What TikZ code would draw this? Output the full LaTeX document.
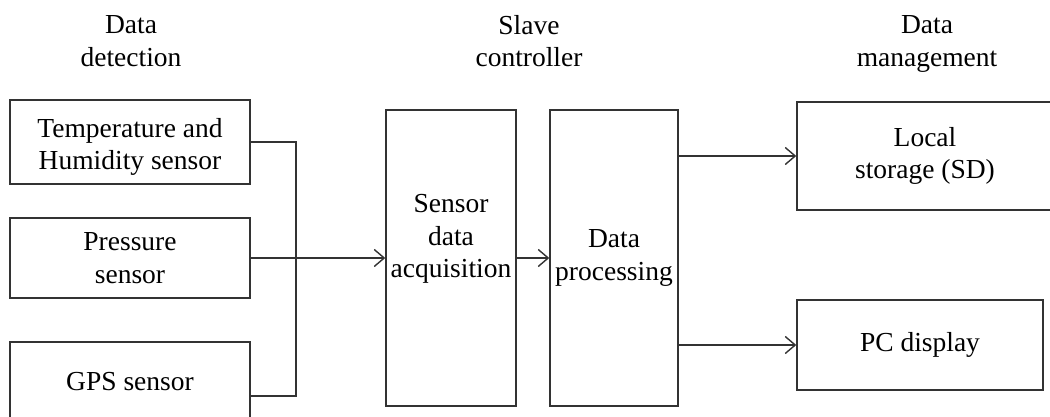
\documentclass[tikz,border=0pt]{standalone}
\usepackage{fontspec}
\setmainfont{Liberation Serif}
\usetikzlibrary{arrows.meta,positioning}

\begin{document}
\begin{tikzpicture}[x=1pt, y=-1pt,
    every node/.style={font=\fontsize{27.5}{32.5}\selectfont, align=center, inner sep=0pt}]
    \tikzstyle{block}=[rectangle, draw=black!80, line width=1.4pt]
    \tikzstyle{connect}=[-{Straight Barb[length=10pt, width=17pt, line width=1.4pt]}, line width=1.4pt, draw=black!80]
    \tikzstyle{wire}=[line width=1.4pt, draw=black!80]

      \useasboundingbox (0,0) rectangle (1050,417);

      % column titles
      \node (detect) at (131,41) {Data\\detection};
      \node (slave) at (529,41) {Slave\\controller};
      \node (manage) at (927,44) {Data\\management};

      % sensors
      \node[block, minimum width=240pt, minimum height=84pt,
            label={[yshift=-5pt]center:{Temperature and\\Humidity sensor}}] (temp) at (130,142) {};
      \node[block, minimum width=240pt, minimum height=80pt] (press) at (130,258) {Pressure\\sensor};
      \node[block, minimum width=240pt, minimum height=80pt] (gps) at (130,382) {GPS sensor};

      % controller
      \node[block, minimum width=130pt, minimum height=296pt,
            label={[yshift=19pt]center:{Sensor\\data\\acquisition}}] (acq) at (451,258) {};
      \node[block, minimum width=128pt, minimum height=296pt] (proc) at (614,258) {Data\\processing};

      % outputs
      \node[block, minimum width=256pt, minimum height=108pt] (store) at (925,156) {Local\\storage (SD)};
      \node[block, minimum width=246pt, minimum height=90pt] (pc) at (920,345) {PC display};

      \coordinate (bus) at (296,258);
      \coordinate (gpsout) at ([yshift=-14pt]gps.east);

      \draw[wire] (temp.east) -| (bus) |- (gpsout);
      \draw[connect] (press.east) -- (acq.west);
      \draw[connect] (acq.east) -- (proc.west);
      \draw[connect] (proc.east |- store.west) -- (store.west);
      \draw[connect] (proc.east |- pc.west) -- (pc.west);
    \end{tikzpicture}
\end{document}
